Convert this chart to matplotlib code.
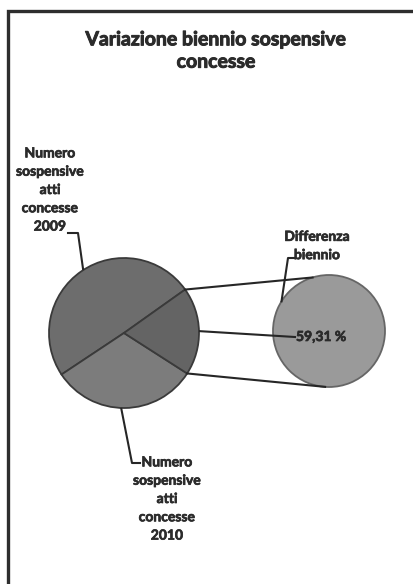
import numpy as np
import matplotlib
matplotlib.use("Agg")
import matplotlib.pyplot as plt
import matplotlib.patheffects as pe
from matplotlib.patches import Rectangle

plt.rcParams["font.family"] = ["Lato", "DejaVu Sans"]

# --- dati ---
titolo = "Variazione biennio sospensive\nconcesse"
etichette = ["Numero\nsospensive\natti\nconcesse\n2009",
             "Numero\nsospensive\natti\nconcesse\n2010",
             "Differenza\nbiennio"]
valori = [49.5, 31.6, 18.9]          # quote della torta principale (%)
valori_sec = [100.0]                 # torta secondaria: solo la differenza
etichetta_diff = "59,31 %"

W, H = 414, 584
fig = plt.figure(figsize=(W / 100, H / 100), dpi=100)
ax = fig.add_axes([0, 0, 1, 1])
ax.axis("off")


def Y(y):  # coordinate immagine -> dati
    return H - y


c1, r1 = (124, Y(333)), 75
c2, r2 = (329, Y(331)), 56
start = 35.4

wedges, _ = ax.pie(valori, center=c1, radius=r1, startangle=start,
                   colors=["#6d6d6d", "#7c7c7c", "#646464"],
                   wedgeprops=dict(edgecolor="#3a3a3a", linewidth=1.3))
ax.pie(valori_sec, center=c2, radius=r2, startangle=90,
       colors=["#9a9a9a"], wedgeprops=dict(edgecolor="#666666", linewidth=1.3))
ax.set_xlim(0, W)
ax.set_ylim(0, H)
ax.set_aspect("equal")

# cornice (solo lati sinistro e superiore visibili)
ax.add_patch(Rectangle((8.5, Y(620)), 440, 609.5, fill=False, ec="#2e2e2e", lw=2.4))


def punto(c, r, ang):
    a = np.radians(ang)
    return c[0] + r * np.cos(a), c[1] + r * np.sin(a)


w_diff = wedges[2]
# linee di collegamento fra le due torte
p_top = punto(c1, r1, w_diff.theta2)
p_bot = punto(c1, r1, w_diff.theta1)
q_top = punto(c2, r2, 107)
q_bot = punto(c2, r2, 266)
lead = dict(color="#262626", lw=1.5)
ax.plot([p_top[0], q_top[0]], [p_top[1], q_top[1]], **lead)
ax.plot([p_bot[0], q_bot[0]], [p_bot[1], q_bot[1]], **lead)

spesso = [pe.withStroke(linewidth=0.5, foreground="#2b2b2b")]
lab = dict(fontsize=10, fontweight="bold", color="#2b2b2b",
           ha="center", va="center", multialignment="center", linespacing=1.63,
           path_effects=spesso)

# 2009
p = punto(c1, r1 + 1, 122.6)
ax.plot([p[0], 78, 68], [p[1], Y(233), Y(233)], **lead)
ax.text(50, Y(190), etichette[0], **lab)

# 2010
p = punto(c1, r1 + 1, 268)
ax.plot([p[0], 132, 140], [p[1], Y(463), Y(463)], **lead)
ax.text(167, Y(499), etichette[1], **lab)

# differenza (torta secondaria)
p = punto(c2, r2, 148)
ax.plot([p[0], 288, 294], [p[1], Y(258), Y(258)], **lead)
ax.text(317, Y(246), etichette[2], **lab)

# 59,31 % (spicchio differenza)
mid = (w_diff.theta1 + w_diff.theta2) / 2
p = punto(c1, r1 + 1, mid)
ax.plot([p[0], 295], [p[1], Y(337)], **lead)
ax.text(296, Y(337), etichetta_diff, fontsize=10, fontweight="bold",
        color="#2b2b2b", ha="left", va="center", path_effects=spesso)

ax.text(216, Y(51), titolo, fontsize=14, fontweight="bold", color="#2b2b2b",
        ha="center", va="center", multialignment="center", linespacing=1.38,
        path_effects=[pe.withStroke(linewidth=0.7, foreground="#2b2b2b")])

fig.savefig("out.png", dpi=100, facecolor="white")
